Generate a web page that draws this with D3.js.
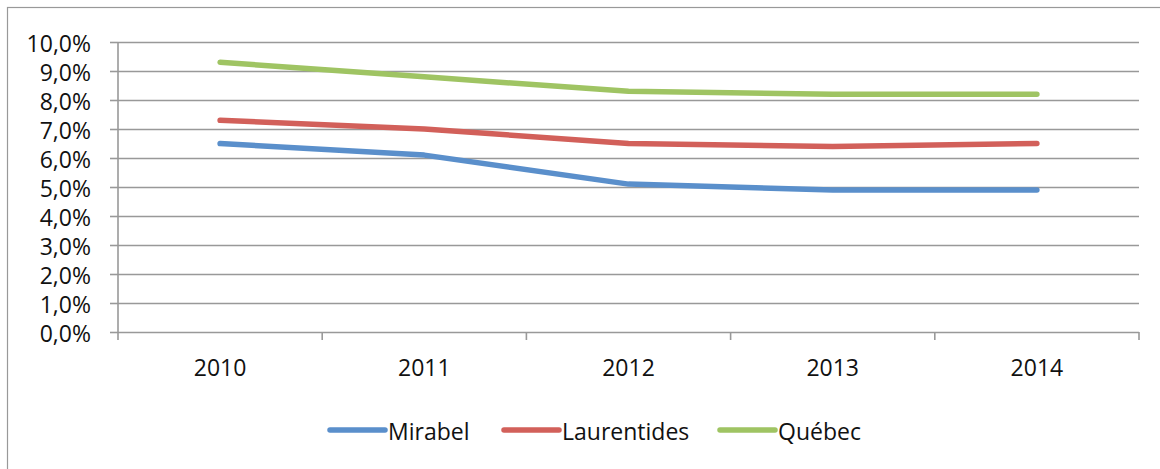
<!DOCTYPE html>
<html>
<head>
<meta charset="utf-8">
<script src="https://cdn.jsdelivr.net/npm/d3@7"></script>
<style>
  body { margin: 0; background: #fff; }
  svg { display: block; font-family: "Open Sans", sans-serif; }
</style>
</head>
<body>
<svg class="chart" width="1160" height="469"></svg>
<script>
const years = ["2010", "2011", "2012", "2013", "2014"];
const mirabel = [6.5, 6.1, 5.1, 4.9, 4.9];
const laurentides = [7.3, 7.0, 6.5, 6.4, 6.5];
const quebec = [9.3, 8.8, 8.3, 8.2, 8.2];
const yTicks = [0, 1, 2, 3, 4, 5, 6, 7, 8, 9, 10];

const series = [
    { name: "Mirabel", values: mirabel, color: "#5a8fcb" },
    { name: "Laurentides", values: laurentides, color: "#d2605a" },
    { name: "Québec", values: quebec, color: "#9fc463" }
];

const svg = d3.select(".chart");
const plot = { left: 118, right: 1139, top: 42, bottom: 332 };

// cadre du graphique (coupé à droite et en bas)
svg.append("rect")
    .attr("x", 7.5).attr("y", 7.5)
    .attr("width", 1200).attr("height", 500)
    .attr("fill", "none")
    .attr("stroke", "#999").attr("stroke-width", 1.2);

const x = d3.scaleBand().domain(years).range([plot.left, plot.right]);
const y = d3.scaleLinear().domain([0, 10]).range([plot.bottom, plot.top]);

const fmt = v => d3.format(".1f")(v).replace(".", ",") + "%";

// grille + axe y
const yAxis = svg.append("g")
    .attr("transform", `translate(${plot.left},0)`)
    .call(d3.axisLeft(y).tickValues(yTicks).tickFormat(fmt).tickSize(8).tickPadding(19));
yAxis.select(".domain").remove();
yAxis.selectAll(".tick line").clone()
    .attr("x2", plot.right - plot.left);
yAxis.selectAll(".tick line").attr("stroke", "#999").attr("stroke-width", 1.6);
yAxis.selectAll("text")
    .attr("font-size", 23)
    .attr("font-family", "Open Sans")
    .attr("fill", "#111")
    .attr("dy", "0.4em");

svg.append("line")
    .attr("x1", plot.left).attr("x2", plot.left)
    .attr("y1", plot.top).attr("y2", plot.bottom + 8)
    .attr("stroke", "#999").attr("stroke-width", 1.6);

// axe x : graduations entre catégories
const bounds = years.map(d => x(d)).concat([plot.right]);
svg.append("g").selectAll("line")
    .data(bounds.slice(1))
    .join("line")
    .attr("x1", d => d).attr("x2", d => d)
    .attr("y1", plot.bottom).attr("y2", plot.bottom + 8)
    .attr("stroke", "#999").attr("stroke-width", 1.6);

svg.append("g").selectAll("text")
    .data(years)
    .join("text")
    .attr("x", d => x(d) + x.bandwidth() / 2)
    .attr("y", 376)
    .attr("text-anchor", "middle")
    .attr("font-size", 23)
    .attr("fill", "#111")
    .text(d => d);

// lignes
const line = d3.line()
    .x((d, i) => x(years[i]) + x.bandwidth() / 2)
    .y(d => y(d));

svg.append("g").selectAll("path")
    .data(series)
    .join("path")
    .attr("d", d => line(d.values))
    .attr("fill", "none")
    .attr("stroke", d => d.color)
    .attr("stroke-width", 5.5)
    .attr("stroke-linecap", "round")
    .attr("stroke-linejoin", "round");

// légende
const legendX = [330, 504, 720];
const leg = svg.append("g").selectAll("g")
    .data(series)
    .join("g")
    .attr("transform", (d, i) => `translate(${legendX[i]},430)`);
leg.append("line")
    .attr("x1", 0).attr("x2", 55)
    .attr("stroke", d => d.color)
    .attr("stroke-width", 5.5)
    .attr("stroke-linecap", "round");
leg.append("text")
    .attr("x", 58)
    .attr("y", 10)
    .attr("font-size", 23)
    .attr("fill", "#111")
    .text(d => d.name);
</script>
</body>
</html>
